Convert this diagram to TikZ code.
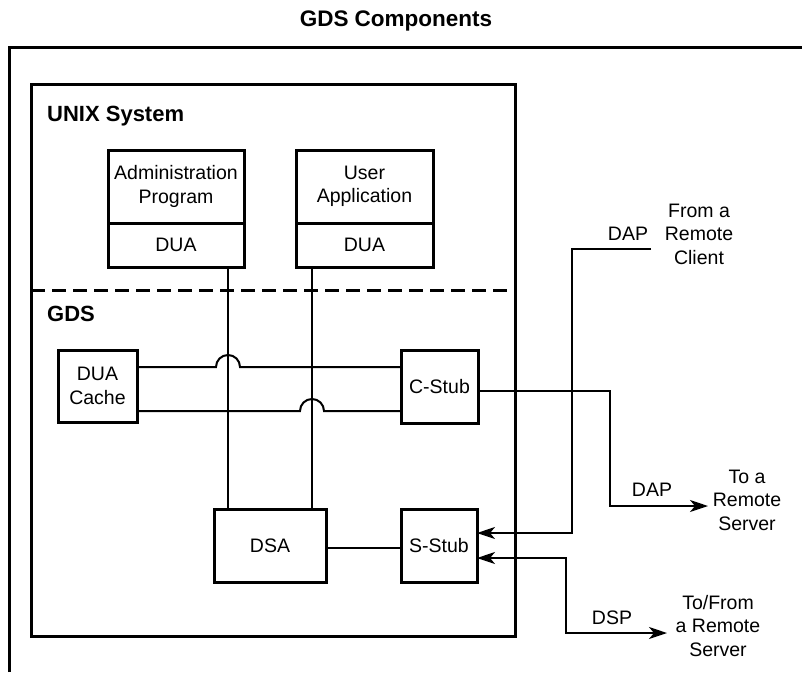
\documentclass[tikz,border=0pt]{standalone}
\usepackage{fontspec}
\setmainfont{Liberation Sans}
\usetikzlibrary{arrows.meta}

\tikzset{
  frame/.style={draw, line width=3pt},
  box/.style={draw, line width=3pt, inner sep=0pt, outer sep=0pt, align=center,
    font=\fontsize{19.5}{23.5}\selectfont},
  lbl/.style={inner sep=0pt, align=center, font=\fontsize{19.5}{23.5}\selectfont},
  head/.style={inner sep=0pt, font=\fontsize{22}{26}\selectfont\bfseries},
  wire/.style={line width=2pt},
  tip/.style={Stealth[length=18pt,width=12pt,inset=5pt]},
  arr/.style={wire, -{Stealth[length=18pt,width=12pt,inset=5pt]}},
  biarr/.style={wire, {Stealth[length=18pt,width=12pt,inset=5pt]}-{Stealth[length=18pt,width=12pt,inset=5pt]}},
}

\begin{document}
\begin{tikzpicture}[x=1pt, y=-1pt]
  \useasboundingbox (0,0) rectangle (802,672);

  % title and outer frame
  \node[head, font=\fontsize{22.5}{26}\selectfont\bfseries] (title) at (396,21) {GDS Components};
  \draw[line width=3pt] (9,672) -- (9,47) -- (802,47);

  % UNIX system / GDS container
  \node[frame, minimum width=484pt, minimum height=552pt, inner sep=0pt, outer sep=0pt] (host) at (273,360) {};
  \draw[line width=3pt, dash pattern=on 14pt off 7pt] (host.west |- 0,290) -- (host.east |- 0,290);
  \node[head, anchor=west] (unixlbl) at (47,116) {UNIX System};
  \node[head, anchor=west] (gdslbl) at (47,314) {GDS};

  % client programs
  \node[box, minimum width=136pt, minimum height=73pt] (adminprog) at (176,186.5) {Administration\\Program};
  \node[box, minimum width=136pt, minimum height=44pt, anchor=north] (admindua) at (adminprog.south) {DUA};
  \node[box, minimum width=137pt, minimum height=73pt] (userapp) at (364.5,186.5) {User\\Application};
  \node[box, minimum width=137pt, minimum height=44pt, anchor=north] (userdua) at (userapp.south) {DUA};

  % GDS components
  \node[box, minimum width=79pt, minimum height=72pt] (cache) at (97.5,386) {DUA\\Cache};
  \node[box, minimum width=77pt, minimum height=73pt] (cstub) at (439.5,386.5) {C-Stub};
  \node[box, minimum width=112pt, minimum height=73pt] (dsa) at (270,545.5) {DSA};
  \node[box, minimum width=76pt, minimum height=73pt] (sstub) at (439,545.5) {S-Stub};

  % remote partners
  \node[lbl] (client) at (699,234) {From a\\Remote\\Client};
  \node[lbl] (dapa) at (628,234) {DAP};
  \node[lbl] (server) at (747,500) {To a\\Remote\\Server};
  \node[lbl] (dapb) at (652,490) {DAP};
  \node[lbl] (peer) at (718,626) {To/From\\a Remote\\Server};
  \node[lbl] (dsp) at (612,618) {DSP};

  % line ends and crossing points
  \coordinate (dapin) at (651,249);
  \coordinate (dapout) at (708,506);
  \coordinate (dspout) at (667,633);
  \coordinate (ja) at (228,367);
  \coordinate (jb) at (312,411);

  % DUA to DSA
  \draw[wire] ([xshift=14pt]dsa.north west) -- ([xshift=14pt]dsa.north west |- admindua.south);
  \draw[wire] ([xshift=-14pt]dsa.north east) -- ([xshift=-14pt]dsa.north east |- userdua.south);

  % DUA Cache to C-Stub, hopping over the DUA lines
  \draw[wire] (cache.east |- ja) -- ([xshift=-12pt]ja) arc[start angle=180, end angle=0, radius=12pt] -- (ja -| cstub.west);
  \draw[wire] (cache.east |- jb) -- ([xshift=-12pt]jb) arc[start angle=180, end angle=0, radius=12pt] -- (jb -| cstub.west);

  % DSA to S-Stub
  \draw[wire] ([yshift=-2.5pt]dsa.east) -- ([yshift=-2.5pt]dsa.east -| sstub.west);

  % C-Stub out to a remote server
  \draw[arr] ([yshift=-4.5pt]cstub.east) -| ([xshift=-98pt]dapout) -- (dapout);

  % remote client in to S-Stub
  \draw[arr] (dapin) -- ([xshift=-79pt]dapin) |- ([yshift=12.5pt]sstub.east);

  % S-Stub to and from a remote server
  \draw[biarr] ([yshift=-12.5pt]sstub.east) -| ([xshift=-101pt]dspout) -- (dspout);
\end{tikzpicture}
\end{document}
